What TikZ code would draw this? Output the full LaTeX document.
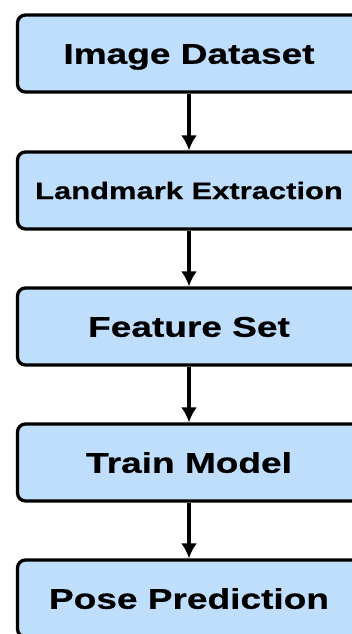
\documentclass[tikz,border=0pt]{standalone}
\usepackage{fontspec}
\usetikzlibrary{arrows.meta}
\newfontfamily\boxfont[FakeStretch=1.3,FakeBold=0.6]{Liberation Sans Bold}
\definecolor{boxblue}{HTML}{BEDEFC}
\begin{document}
\begin{tikzpicture}
[
 x=1pt, y=1pt,
 >={Latex[length=15pt,width=16pt]},
 line width=3.3pt,
 align=center,
 stage/.style={draw=black,fill=boxblue,rectangle,rounded corners=8pt,minimum width=343pt,minimum height=77pt,text height=20.5pt,text depth=0pt,font=\boxfont\fontsize{28.5}{34}\selectfont},
 small/.style={text height=17.1pt,font=\boxfont\fontsize{23.8}{28}\selectfont}
]
\clip (0,0) rectangle (352,-634);
\node (dataset) [stage] at (189,-53.5) {Image Dataset};
\node (landmark) [stage,small] at (189,-190.5) {Landmark Extraction};
\node (features) [stage] at (189,-326.5) {Feature Set};
\node (train) [stage] at (189,-462.5) {Train Model};
\node (predict) [stage] at (189,-598.5) {Pose Prediction};
\draw[->] (dataset) -- (landmark);
\draw[->] (landmark) -- (features);
\draw[->] (features) -- (train);
\draw[->] (train) -- (predict);
\end{tikzpicture}
\end{document}
